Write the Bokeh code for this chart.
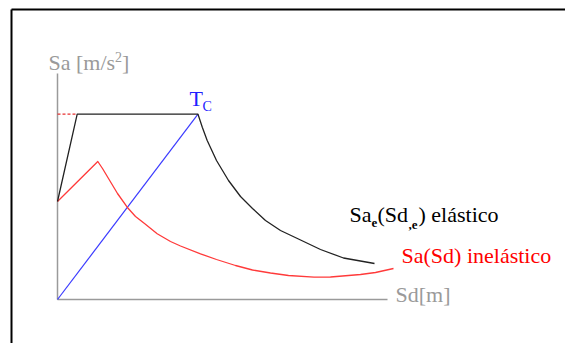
from bokeh.plotting import figure
from bokeh.models import Range1d
from bokeh.core.properties import value
from bokeh.embed import file_html
from bokeh.resources import INLINE

# Capacity-spectrum sketch: elastic vs inelastic response spectra in Sa-Sd format
# (arbitrary units, origin at the axes corner)

# elastic spectrum Sa_e(Sd_e)
elastic_sd = [0, 19.7, 140.5, 144.8, 149.7, 159, 171, 183, 195, 208, 223, 242, 263, 286, 317]
elastic_sa = [98, 185.3, 185.3, 172.3, 159, 139, 119, 103, 91, 79, 69, 60, 50, 41.5, 36]

# inelastic spectrum Sa(Sd)
inelastic_sd = [0, 40.3, 45, 51, 60, 69.7, 78, 87, 99.7, 113, 123, 143, 159, 178, 195,
                213, 231, 256.5, 273, 285, 303, 318, 336]
inelastic_sa = [98, 138, 131, 121, 106, 92.3, 83, 76, 65.7, 58, 53.5, 45.7, 40, 34, 29.5,
                26.5, 24, 22.3, 22.5, 23.5, 25, 27, 31]

# radial line of period T_C
tc_sd = [0, 140.5]
tc_sa = [0, 185.3]

# plateau level extended back to the Sa axis
plateau_sd = [0, 19.7]
plateau_sa = [185.3, 185.3]

# axis extents
sa_axis_top = 226
sd_axis_end = 330

GRAY = "#9a9a9a"

p = figure(width=565, height=343, output_backend="svg", toolbar_location=None,
           x_axis_type=None, y_axis_type=None,
           x_range=Range1d(-57, 508), y_range=Range1d(-44, 299),
           min_border=0, min_border_left=0, min_border_right=0,
           min_border_top=0, min_border_bottom=0,
           outline_line_color=None, background_fill_color="white",
           border_fill_color="white")

# surrounding frame (top and left edges)
p.line([-46, -46], [-100, 290], line_color="black", line_width=2)
p.line([-46, 600], [290, 290], line_color="black", line_width=2)

# axes
p.line([0, 0], [0, sa_axis_top], line_color=GRAY, line_width=1.5)
p.line([0, sd_axis_end], [0, 0], line_color=GRAY, line_width=1.5)

# curves
p.line(plateau_sd, plateau_sa, line_color="#e83030", line_width=1.2, line_dash="3 2")
p.line(tc_sd, tc_sa, line_color="#3a3aff", line_width=1.2)
p.line(inelastic_sd, inelastic_sa, line_color="#ff3a3a", line_width=1.3, line_join="round")
p.line(elastic_sd, elastic_sa, line_color="#222222", line_width=1.3, line_join="round")


def label(x, y, txt, color, size, bold=False):
    # y is the bottom of the text box (default baseline "bottom")
    kw = dict(text_font_style="bold") if bold else {}
    p.text(x=[x], y=[y], text=[txt], text_font=value("Liberation Serif"),
           text_font_size=value(size), text_color=color, **kw)


# axis titles
label(-9, 224.2, "Sa [m/s", GRAY, "22px")
label(57.6, 237.5, "2", GRAY, "14px")
label(64.6, 224.2, "]", GRAY, "22px")
label(338, -7.8, "Sd[m]", GRAY, "22px")

# T_C marker
label(132, 188.2, "T", "#2020ff", "22px")
label(145, 185.5, "C", "#2020ff", "14px")

# elastic spectrum label
label(292, 72.2, "Sa", "black", "22px")
label(314, 72.2, "e", "black", "13px", bold=True)
label(320, 72.2, "(Sd", "black", "22px")
label(351, 70.2, ",e", "black", "13px", bold=True)
label(361, 72.2, ") elástico", "black", "22px")

# inelastic spectrum label
label(344, 31.2, "Sa(Sd) inelástico", "red", "22px")

open("out.html", "w").write(file_html(p, INLINE))
